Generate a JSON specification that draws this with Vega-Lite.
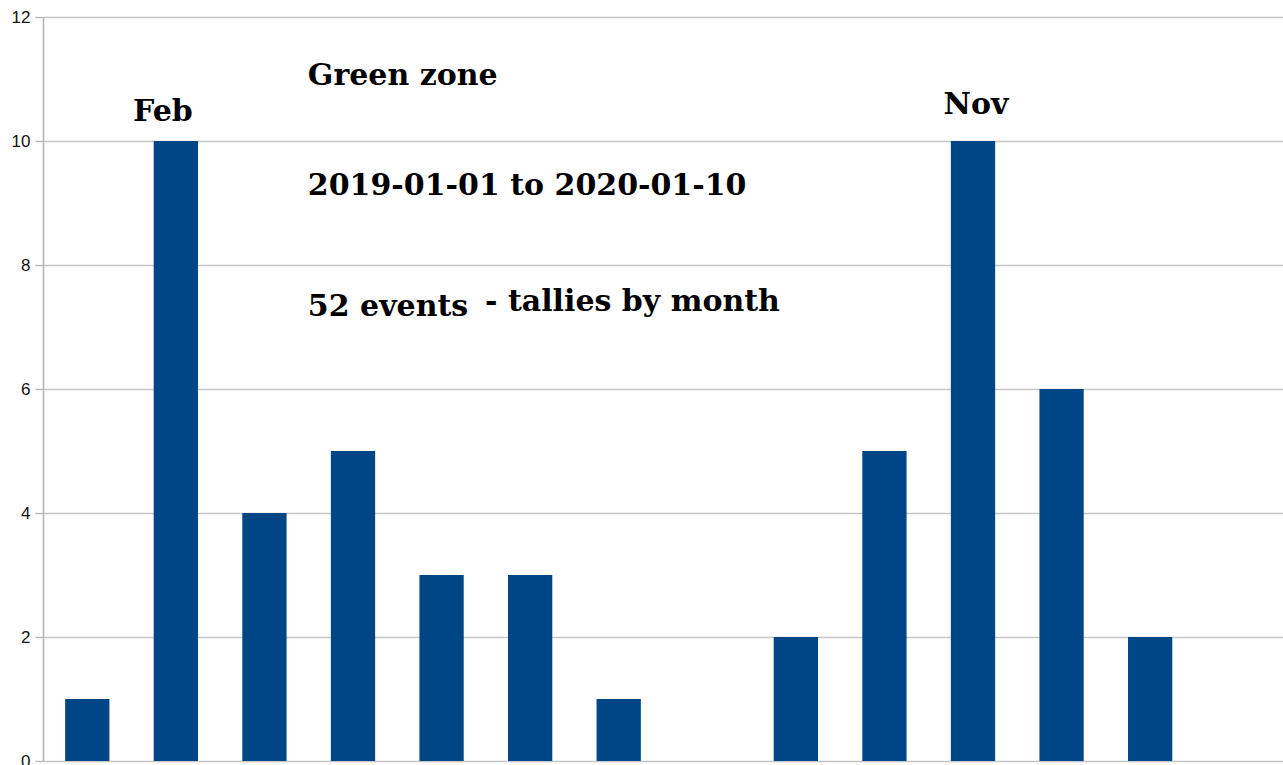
{
  "$schema": "https://vega.github.io/schema/vega-lite/v6.json",
  "width": 1240,
  "height": 744,
  "autosize": {"type": "none"},
  "padding": {"left": 43, "top": 17, "right": 0, "bottom": 4},
  "background": "white",
  "config": {"view": {"stroke": null}},
  "datasets": {
    "tallies": [
      {"month": "2019-01", "events": 1},
      {"month": "2019-02", "events": 10},
      {"month": "2019-03", "events": 4},
      {"month": "2019-04", "events": 5},
      {"month": "2019-05", "events": 3},
      {"month": "2019-06", "events": 3},
      {"month": "2019-07", "events": 1},
      {"month": "2019-08", "events": 0},
      {"month": "2019-09", "events": 2},
      {"month": "2019-10", "events": 5},
      {"month": "2019-11", "events": 10},
      {"month": "2019-12", "events": 6},
      {"month": "2020-01", "events": 2}
    ],
    "feb": [
      {"month": "2019-02", "y": 10.47, "label": "Feb"}
    ],
    "nov": [
      {"month": "2019-11", "y": 10.58, "label": "Nov"}
    ],
    "notes": [
      {"month": "2019-04", "y": 11.05, "label": "Green zone"},
      {"month": "2019-04", "y": 9.27, "label": "2019-01-01 to 2020-01-10"},
      {"month": "2019-04", "y": 7.33, "label": "52 events"},
      {"month": "2019-06", "y": 7.41, "label": "- tallies by month"}
    ]
  },
  "layer": [
    {
      "data": {"name": "tallies"},
      "mark": {"type": "bar", "color": "#004586"},
      "encoding": {
        "x": {
          "field": "month", "type": "nominal", "axis": null,
          "scale": {
            "domain": ["2019-01","2019-02","2019-03","2019-04","2019-05","2019-06","2019-07","2019-08","2019-09","2019-10","2019-11","2019-12","2020-01","2020-02"],
            "paddingInner": 0.5, "paddingOuter": 0.25
          }
        },
        "y": {
          "field": "events", "type": "quantitative",
          "scale": {"domain": [0, 12], "nice": false},
          "axis": {
            "title": null, "values": [0,2,4,6,8,10,12], "format": "d",
            "grid": true, "gridColor": "#c6c6c6", "gridWidth": 1.3,
            "domainColor": "#b3b3b3", "domainWidth": 1.5,
            "tickColor": "#b3b3b3", "tickSize": 8, "tickWidth": 1.3,
            "labelFont": "Liberation Sans", "labelFontSize": 17, "labelColor": "#111",
            "labelPadding": 5
          }
        }
      }
    },
    {
      "data": {"name": "feb"},
      "mark": {"type": "text", "font": "DejaVu Serif", "fontWeight": "bold", "fontSize": 30, "baseline": "middle", "align": "center", "dx": -13, "color": "#000"},
      "encoding": {
        "x": {"field": "month", "type": "nominal"},
        "y": {"field": "y", "type": "quantitative"},
        "text": {"field": "label"}
      }
    },
    {
      "data": {"name": "nov"},
      "mark": {"type": "text", "font": "DejaVu Serif", "fontWeight": "bold", "fontSize": 30, "baseline": "middle", "align": "center", "dx": 3, "color": "#000"},
      "encoding": {
        "x": {"field": "month", "type": "nominal"},
        "y": {"field": "y", "type": "quantitative"},
        "text": {"field": "label"}
      }
    },
    {
      "data": {"name": "notes"},
      "mark": {"type": "text", "font": "DejaVu Serif", "fontWeight": "bold", "fontSize": 30, "baseline": "middle", "align": "left", "dx": -23, "color": "#000"},
      "encoding": {
        "x": {"field": "month", "type": "nominal", "bandPosition": 0},
        "y": {"field": "y", "type": "quantitative"},
        "text": {"field": "label"}
      }
    }
  ]
}
